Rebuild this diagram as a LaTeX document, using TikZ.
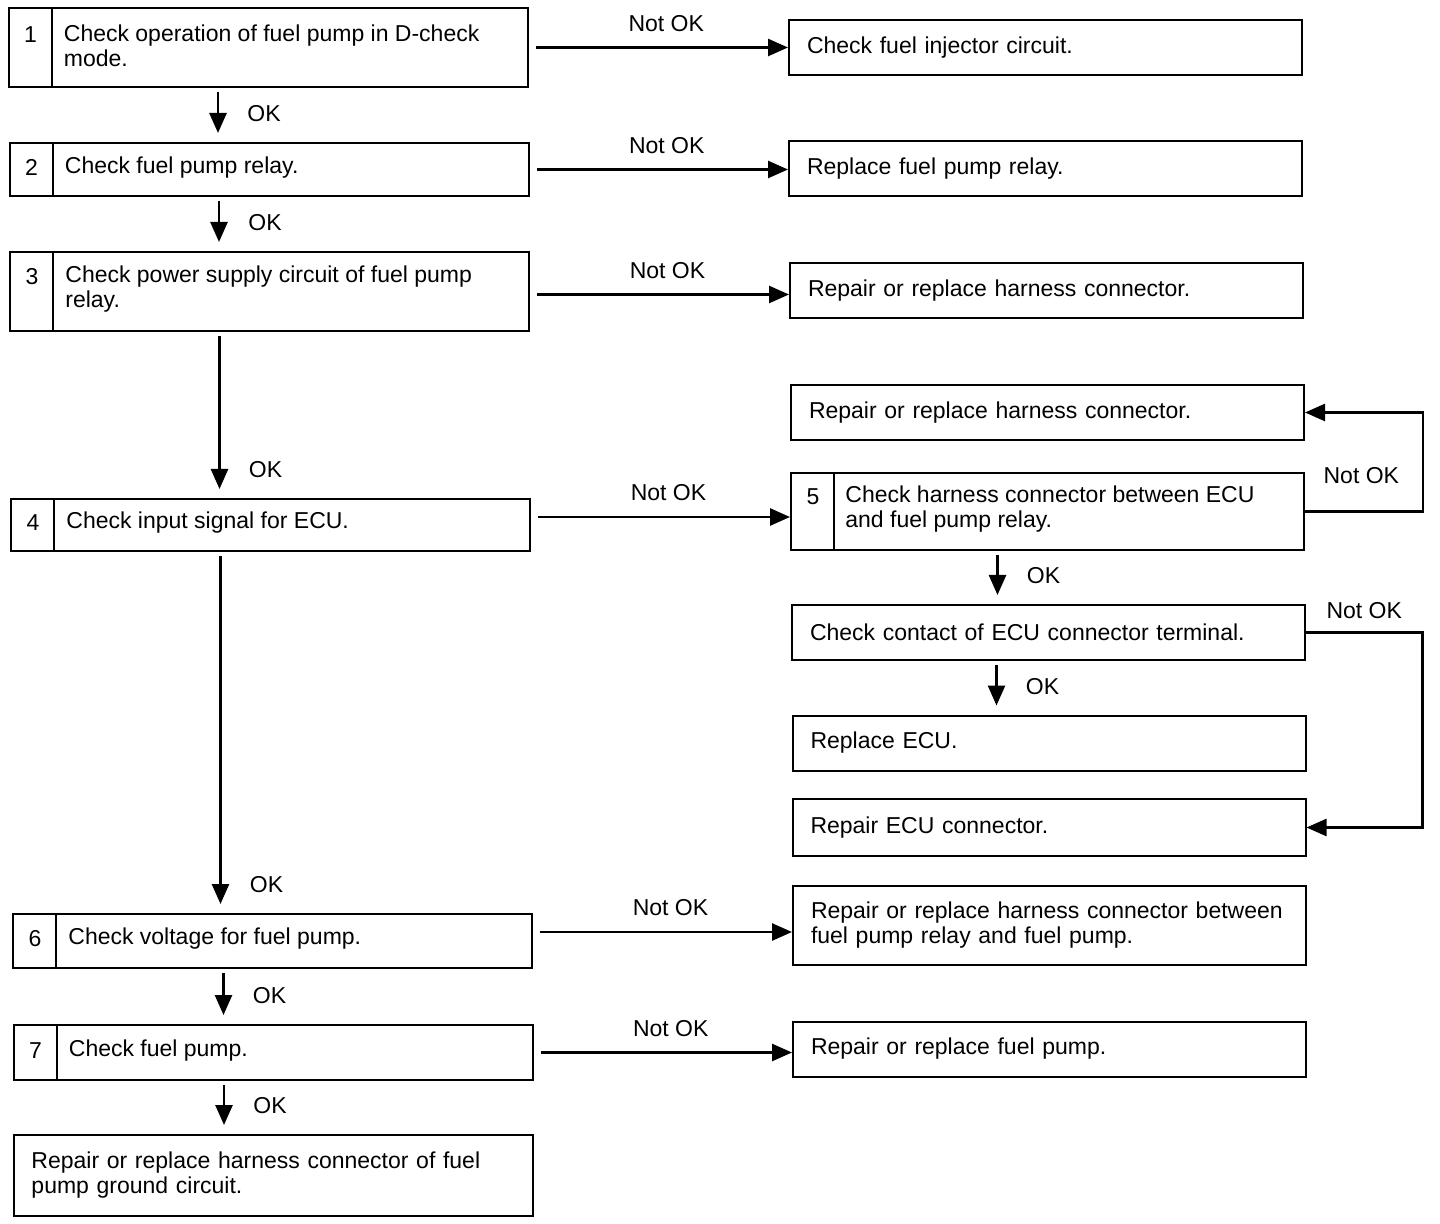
\documentclass[tikz,border=0pt]{standalone}
\usepackage{fontspec}
\setmainfont{Liberation Sans}
\usetikzlibrary{arrows.meta,positioning}

\tikzset{
    box/.style={draw, rectangle, line width=1pt, inner sep=0pt},
    lbox/.style={box, minimum width=259.5pt},
    rbox/.style={box, text width=238.5pt, inner xsep=9pt, align=left, minimum height=27.5pt},
    txt/.style={anchor=west, align=left, inner sep=0pt},
    num/.style={inner sep=0pt, anchor=north, yshift=-1.2pt},
    divline/.style={line width=1pt},
    arr/.style={line width=1.3pt, -{Triangle[length=10pt,width=8.5pt]}},
    down/.style={arr, shorten <=2pt, shorten >=4.5pt},
    oklab/.style={anchor=west, xshift=10.7pt, yshift=14pt},
    nok/.style={above=4pt, xshift=4pt}
}

\begin{document}
\begin{tikzpicture}[x=0.5pt, y=-0.5pt, font=\fontsize{11.5}{12.5}\selectfont]
    \useasboundingbox (0,0) rectangle (1440,1224);

    % left column
    \node[lbox, minimum height=39.5pt] (s1) at (268,47.5) {};
    \node[lbox, minimum height=26.5pt] (s2) at (269,169.5) {};
    \node[lbox, minimum height=39.5pt] (s3) at (269.5,291.5) {};
    \node[lbox, minimum height=26pt] (s4) at (270.5,525) {};
    \node[lbox, minimum height=27pt] (s6) at (272.5,941) {};
    \node[lbox, minimum height=27.5pt] (s7) at (273,1052.5) {};
    \node[lbox, text width=241.5pt, inner xsep=9pt, align=left, minimum height=40.5pt] (fin) at (273,1175.5)
        {Repair or replace harness connector of fuel\\pump ground circuit.};

    % right column
    \node[rbox] (r1) at (1045.5,47.5) {Check fuel injector circuit.};
    \node[rbox] (r2) at (1045.5,168.5) {Replace fuel pump relay.};
    \node[rbox] (r3) at (1046.5,290.5) {Repair or replace harness connector.};
    \node[rbox] (r4) at (1047.5,412.5) {Repair or replace harness connector.};
    \node[box, minimum width=256.5pt, minimum height=38.5pt] (s5) at (1047.5,511.5) {};
    \node[rbox] (r6) at (1048.5,632.5) {Check contact of ECU connector terminal.};
    \node[rbox] (r7) at (1049,743) {Replace ECU.};
    \node[rbox, minimum height=28.5pt] (r8) at (1049,827.5) {Repair ECU connector.};
    \node[rbox, minimum height=39.5pt] (r9) at (1049.5,925.5)
        {Repair or replace harness connector between\\fuel pump relay and fuel pump.};
    \node[rbox] (r10) at (1049.5,1049) {Repair or replace fuel pump.};

    % step texts, numbers and dividers
    \node[txt] (t1) at ([xshift=28pt,yshift=1pt]s1.west) {Check operation of fuel pump in D-check\\mode.};
    \node[txt] (t2) at ([xshift=28pt,yshift=1pt]s2.west) {Check fuel pump relay.};
    \node[txt] (t3) at ([xshift=28pt,yshift=1pt]s3.west) {Check power supply circuit of fuel pump\\relay.};
    \node[txt] (t4) at ([xshift=28pt,yshift=1pt]s4.west) {Check input signal for ECU.};
    \node[txt] (t5) at ([xshift=27.5pt,yshift=1pt]s5.west) {Check harness connector between ECU\\and fuel pump relay.};
    \node[txt] (t6) at ([xshift=28pt,yshift=1pt]s6.west) {Check voltage for fuel pump.};
    \node[txt] (t7) at ([xshift=28pt,yshift=1pt]s7.west) {Check fuel pump.};
    \foreach \s in {s1,s2,s3,s4,s5,s6,s7}
        \draw[divline] ([xshift=22pt]\s.north west) -- ([xshift=22pt]\s.south west);
    \node[num] (n1) at ([xshift=11.5pt]s1.west |- t1.north) {1};
    \node[num] (n2) at ([xshift=11.5pt]s2.west |- t2.north) {2};
    \node[num] (n3) at ([xshift=11.5pt]s3.west |- t3.north) {3};
    \node[num] (n4) at ([xshift=11.5pt]s4.west |- t4.north) {4};
    \node[num] (n5) at ([xshift=11.5pt]s5.west |- t5.north) {5};
    \node[num] (n6) at ([xshift=11.5pt]s6.west |- t6.north) {6};
    \node[num] (n7) at ([xshift=11.5pt]s7.west |- t7.north) {7};

    % OK arrows
    \draw[down] ([xshift=-25pt]s1.south) -- node[oklab, pos=1] {OK} ([xshift=-25pt]s1.south |- s2.north);
    \draw[down] ([xshift=-25pt]s2.south) -- node[oklab, pos=1] {OK} ([xshift=-25pt]s2.south |- s3.north);
    \draw[down] ([xshift=-25pt]s3.south) -- node[oklab, pos=1] {OK} ([xshift=-25pt]s3.south |- s4.north);
    \draw[down] ([xshift=-25pt]s4.south) -- node[oklab, pos=1] {OK} ([xshift=-25pt]s4.south |- s6.north);
    \draw[down] ([xshift=-24.5pt]s6.south) -- node[oklab, pos=1] {OK} ([xshift=-24.5pt]s6.south |- s7.north);
    \draw[down] ([xshift=-24.5pt]s7.south) -- node[oklab, pos=1] {OK} ([xshift=-24.5pt]s7.south |- fin.north);
    \draw[down] ([xshift=-25pt]s5.south) -- node[oklab, pos=1] {OK} ([xshift=-25pt]s5.south |- r6.north);
    \draw[down] ([xshift=-26pt]r6.south) -- node[oklab, pos=1] {OK} ([xshift=-26pt]r6.south |- r7.north);

    % Not OK arrows
    \draw[arr, shorten <=3.5pt] (s1.east) -- node[nok] {Not OK} (s1.east -| r1.west);
    \draw[arr, shorten <=3.5pt] (s2.east) -- node[nok] {Not OK} (s2.east -| r2.west);
    \draw[arr, shorten <=3.5pt] ([yshift=-1.5pt]s3.east) -- node[nok] {Not OK} ([yshift=-1.5pt]s3.east -| r3.west);
    \draw[arr, shorten <=3.5pt] ([yshift=4pt]s4.east) -- node[nok] {Not OK} ([yshift=4pt]s4.east -| s5.west);
    \draw[arr, shorten <=3.5pt] ([yshift=4.5pt]s6.east) -- node[nok] {Not OK} ([yshift=4.5pt]s6.east -| r9.west);
    \draw[arr, shorten <=3.5pt] (s7.east) -- node[nok] {Not OK} (s7.east -| r10.west);

    % loops back on the right
    \draw[arr] (s5.east) -| node[pos=0.68, left=8pt] {Not OK} ([xshift=59pt]r4.east) -- (r4.east);
    \draw[arr] (r6.east) -| node[pos=0.25, above=3pt] {Not OK} ([xshift=58pt]r8.east) -- (r8.east);
\end{tikzpicture}
\end{document}
